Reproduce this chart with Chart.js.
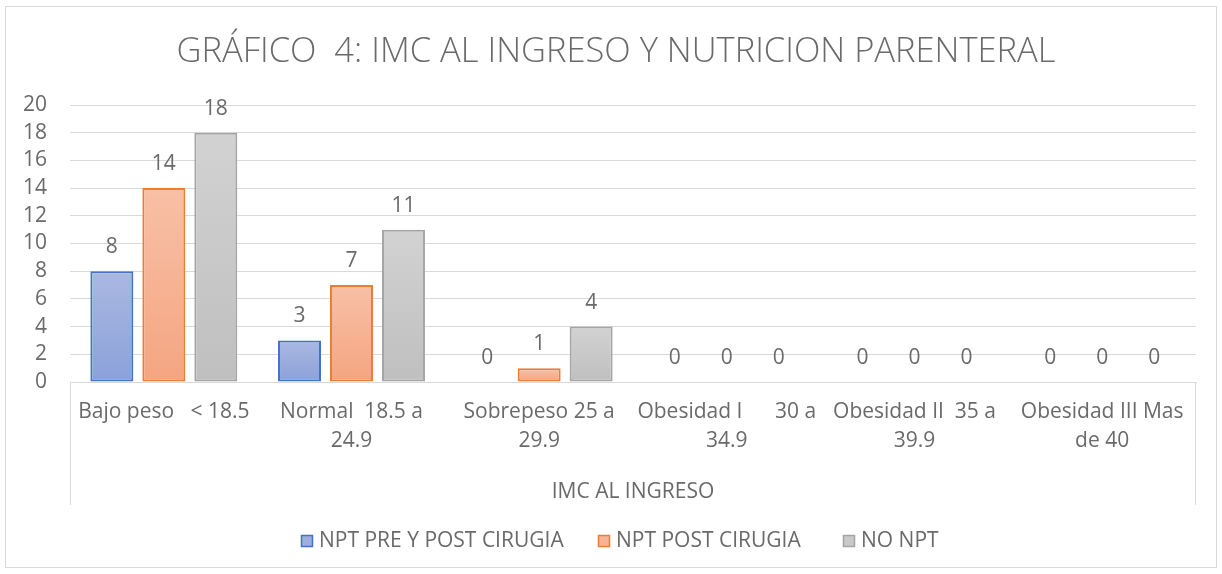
<!DOCTYPE html>
<html>
<head>
<meta charset="utf-8">
<script src="https://cdn.jsdelivr.net/npm/chart.js@4.4.1/dist/chart.umd.min.js"></script>
<style>
  html, body { margin: 0; padding: 0; background: #fff; }
  #wrap { width: 1222px; height: 574px; position: relative; }
</style>
</head>
<body>
<div id="wrap"><canvas id="imcChart" width="1222" height="574"></canvas></div>
<script>
// categorias del eje X (etiquetas en varias lineas como en Excel)
var categorias = [
  'Bajo peso   < 18.5',
  ['Normal  18.5 a', '24.9'],
  ['Sobrepeso 25 a', '29.9'],
  ['Obesidad I      30 a', '34.9'],
  ['Obesidad II  35 a', '39.9'],
  ['Obesidad III Mas', 'de 40']
];
var serieNombres = ['NPT PRE Y POST CIRUGIA', 'NPT POST CIRUGIA', 'NO NPT'];
var nptPreYPost = [8, 3, 0, 0, 0, 0];
var nptPost = [14, 7, 1, 0, 0, 0];
var noNpt = [18, 11, 4, 0, 0, 0];
var yMax = 20;
var yPaso = 2;

var titulo = 'GRÁFICO  4: IMC AL INGRESO Y NUTRICION PARENTERAL';
var tituloEje = 'IMC AL INGRESO';
var textColor = '#6a6a6a';
var fuente = '"Open Sans", "Noto Sans", sans-serif';
var leyendaX = [301, 598, 843];

function degradado(arriba, abajo) {
  return function(ctx) {
    var chart = ctx.chart;
    if (!chart.chartArea || !chart.scales.y) return abajo;
    var y0 = chart.scales.y.getPixelForValue(ctx.raw);
    var y1 = chart.scales.y.getPixelForValue(0);
    if (y1 - y0 < 1) return abajo;
    var g = chart.ctx.createLinearGradient(0, y0, 0, y1);
    g.addColorStop(0, arriba);
    g.addColorStop(1, abajo);
    return g;
  };
}

function bordeAncho(ctx) {
  return ctx.raw === 0 ? 0 : 2;
}

// marco, caja del eje de categorias, titulo, etiquetas de datos y leyenda
var decoracion = {
  id: 'decoracion',
  beforeDraw: function(chart) {
    var c = chart.ctx;
    c.save();
    c.strokeStyle = '#d9d9d9';
    c.lineWidth = 1;
    c.strokeRect(5.5, 6.5, 1211, 561);
    c.restore();
  },
  afterDraw: function(chart) {
    var c = chart.ctx;
    var area = chart.chartArea;
    var xs = chart.scales.x;
    c.save();
    // caja del eje multinivel
    c.strokeStyle = '#d9d9d9';
    c.lineWidth = 1;
    c.beginPath();
    c.moveTo(Math.round(area.left) + 0.5, area.bottom);
    c.lineTo(Math.round(area.left) + 0.5, xs.bottom);
    c.moveTo(Math.round(area.right) - 0.5, area.bottom);
    c.lineTo(Math.round(area.right) - 0.5, xs.bottom);
    c.stroke();

    // titulo
    c.fillStyle = textColor;
    c.textAlign = 'center';
    c.textBaseline = 'middle';
    c.font = '300 34.5px ' + fuente;
    c.fillText(titulo, 616, 52);

    // etiquetas de datos
    c.font = '21px ' + fuente;
    chart.data.datasets.forEach(function(ds, i) {
      var meta = chart.getDatasetMeta(i);
      meta.data.forEach(function(el, j) {
        c.fillText(String(ds.data[j]), el.x, el.y - 24);
      });
    });

    // leyenda
    var yc = 541;
    c.textAlign = 'left';
    chart.data.datasets.forEach(function(ds, i) {
      var x = leyendaX[i];
      c.fillStyle = ds.legendFill;
      c.fillRect(x, yc - 6, 12, 12);
      c.strokeStyle = ds.legendBorder;
      c.lineWidth = 1.5;
      c.strokeRect(x + 0.5, yc - 5.5, 11, 11);
      c.fillStyle = textColor;
      c.fillText(ds.label, x + 18, yc);
    });
    c.restore();
  }
};

new Chart(document.getElementById('imcChart'), {
  type: 'bar',
  data: {
    labels: categorias,
    datasets: [{
      label: serieNombres[0],
      data: nptPreYPost,
      backgroundColor: degradado('#aab8e2', '#8ba1d9'),
      borderColor: '#4472c4',
      borderWidth: bordeAncho,
      legendFill: '#9cadde',
      legendBorder: '#4472c4'
    }, {
      label: serieNombres[1],
      data: nptPost,
      backgroundColor: degradado('#f8c0a6', '#f4a581'),
      borderColor: '#ed7d31',
      borderWidth: bordeAncho,
      legendFill: '#f6b396',
      legendBorder: '#ed7d31'
    }, {
      label: serieNombres[2],
      data: noNpt,
      backgroundColor: degradado('#d2d2d2', '#bfbfbf'),
      borderColor: '#a5a5a5',
      borderWidth: bordeAncho,
      legendFill: '#c9c9c9',
      legendBorder: '#a5a5a5'
    }]
  },
  options: {
    responsive: false,
    animation: false,
    layout: { padding: { left: 0, top: 105, right: 26, bottom: 69 } },
    datasets: {
      bar: {
        categoryPercentage: 0.831,
        barPercentage: 0.827,
        borderSkipped: false
      }
    },
    plugins: {
      legend: { display: false },
      title: { display: false },
      tooltip: { enabled: false }
    },
    scales: {
      x: {
        grid: { display: false, drawTicks: false },
        border: { display: true, color: '#d9d9d9', width: 1 },
        ticks: {
          color: textColor,
          font: { family: fuente, size: 21, lineHeight: 1.38 },
          padding: 16,
          maxRotation: 0,
          autoSkip: false
        },
        title: {
          display: true,
          text: tituloEje,
          color: textColor,
          font: { family: fuente, size: 21 },
          padding: { top: 0, bottom: 0 }
        },
        afterFit: function(scale) { scale.height = 123; }
      },
      y: {
        min: 0,
        max: yMax,
        grid: { color: '#d9d9d9', drawTicks: false },
        border: { display: false },
        ticks: {
          stepSize: yPaso,
          autoSkip: false,
          color: textColor,
          font: { family: fuente, size: 21 },
          padding: 23
        },
        afterFit: function(scale) { scale.width = 70; }
      }
    }
  },
  plugins: [decoracion]
});
</script>
</body>
</html>
